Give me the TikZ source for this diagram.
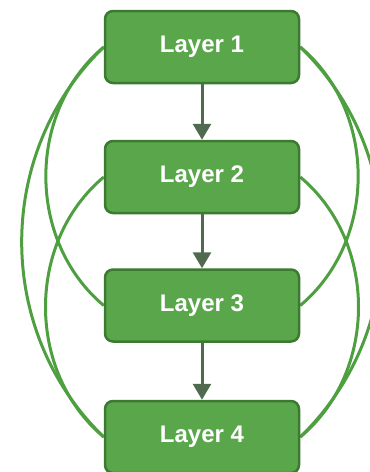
\documentclass[tikz,border=0pt]{standalone}
\usepackage{fontspec}
\setmainfont{Liberation Sans}
\usetikzlibrary{arrows.meta,backgrounds}
\definecolor{boxfill}{HTML}{5AA74B}
\definecolor{boxline}{HTML}{3B7A30}
\definecolor{linkgreen}{HTML}{4E9F3F}
\definecolor{flowgrey}{HTML}{4F6A4E}
\begin{document}
\begin{tikzpicture}[x=1pt,y=1pt,
  layer/.style={draw=boxline, line width=2.5pt, fill=boxfill, rounded corners=8pt,
    minimum width=194pt, minimum height=72pt, inner sep=0pt, text=white,
    font=\bfseries\fontsize{24}{28}\selectfont},
  flow/.style={draw=flowgrey, line width=3pt, -{Triangle[width=18pt,length=16pt]}},
  skiplink/.style={draw=linkgreen, line width=3pt}]
\useasboundingbox (0,-472) rectangle (370,0);

% stacked layers
\node[layer] (l1) at (202,-47) {Layer 1};
\node[layer] (l2) at (202,-177) {Layer 2};
\node[layer] (l3) at (202,-305.5) {Layer 3};
\node[layer] (l4) at (202,-437) {Layer 4};

% sequential flow
\draw[flow] (l1.south) -- (l2.north);
\draw[flow] (l2.south) -- (l3.north);
\draw[flow] (l3.south) -- (l4.north);

% skip connections around the stack
\begin{scope}[on background layer]
  \draw[skiplink] (l1.west) to[out=220, in=140] (l3.west);
  \draw[skiplink] (l1.west) to[out=224, in=136] (l4.west);
  \draw[skiplink] (l2.west) to[out=220, in=140] (l4.west);
  \draw[skiplink] (l1.east) to[out=-40, in=40] (l3.east);
  \draw[skiplink] (l1.east) to[out=-44, in=44] (l4.east);
  \draw[skiplink] (l2.east) to[out=-40, in=40] (l4.east);
\end{scope}
\end{tikzpicture}
\end{document}
